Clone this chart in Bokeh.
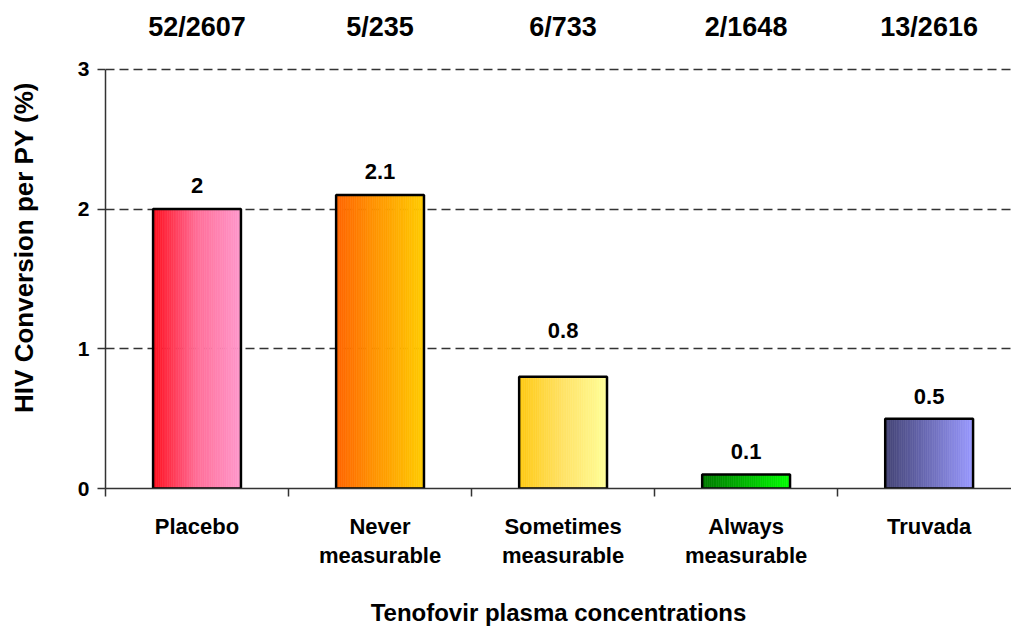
import numpy as np
from bokeh.plotting import figure
from bokeh.models import ColumnDataSource, LabelSet, FixedTicker, Range1d, LinearAxis
from bokeh.core.properties import value
from bokeh.embed import file_html
from bokeh.resources import INLINE

# --- data -------------------------------------------------------------
categories = ["Placebo", "Never measurable", "Sometimes measurable",
              "Always measurable", "Truvada"]
rates = [2.0, 2.1, 0.8, 0.1, 0.5]          # HIV conversion per PY (%)
counts = ["52/2607", "5/235", "6/733", "2/1648", "13/2616"]
y_ticks = [0, 1, 2, 3]
x_title = "Tenofovir plasma concentrations"
y_title = "HIV Conversion per PY (%)"

# --- styling ----------------------------------------------------------
gradients = [
    ("#FF0F1E", "#FF6E98", "#FF9ACC"),
    ("#FF6400", "#FF9A00", "#FFCC00"),
    ("#FFCA12", "#FFE266", "#FFFF99"),
    ("#007800", "#00B800", "#00FF00"),
    ("#444475", "#6D6DB8", "#9A9AFF"),
]
label_lift = [16, 16, 39, 16, 15]   # px between bar top and its value label
FONT = "Liberation Sans"
BAR_W = 0.48
STRIPS = 48
AXIS_COLOR = "#333333"


def hex_rgb(h):
    h = h.lstrip("#")
    return np.array([int(h[i:i + 2], 16) for i in (0, 2, 4)], dtype=float)


def blend(stops, t):
    cols = [hex_rgb(s) for s in stops]
    seg = t * (len(cols) - 1)
    k = min(int(seg), len(cols) - 2)
    f = seg - k
    c = cols[k] * (1 - f) + cols[k + 1] * f
    return "#%02X%02X%02X" % tuple(int(round(v)) for v in c)


xs = np.arange(len(categories), dtype=float)
bounds = list(np.arange(-0.5, len(categories), 1.0))
y_max = max(y_ticks)
line1 = {float(x): c.split(" ")[0] for x, c in zip(xs, categories)}
line2 = {float(x): " ".join(c.split(" ")[1:]) for x, c in zip(xs, categories)}

p = figure(width=1011, height=628,
           x_range=Range1d(-0.5, 4.45), y_range=Range1d(0, 3.45),
           output_backend="svg", toolbar_location=None,
           min_border_left=105, min_border_right=0,
           min_border_top=6, min_border_bottom=140)
p.outline_line_color = None
p.background_fill_color = "white"
p.border_fill_color = "white"

# gradient fill: thin vertical strips across each bar
left, right, top, fill = [], [], [], []
for i, (xc, v) in enumerate(zip(xs, rates)):
    x0 = xc - BAR_W / 2
    for k in range(STRIPS):
        left.append(x0 + BAR_W * k / STRIPS)
        right.append(x0 + BAR_W * (k + 1) / STRIPS)
        top.append(v)
        fill.append(blend(gradients[i], (k + 0.5) / STRIPS))
strip_src = ColumnDataSource(dict(left=left, right=right, top=top,
                                  bottom=[0] * len(top), color=fill))
p.quad(left="left", right="right", top="top", bottom="bottom",
       fill_color="color", line_color="color", line_width=0.6,
       source=strip_src)

# bar outlines
bar_src = ColumnDataSource(dict(x=xs, top=rates, counts=counts,
                                text=[f"{v:g}" for v in rates],
                                lift=label_lift,
                                ymax=[y_max] * len(xs)))
p.vbar(x="x", top="top", bottom=0, width=BAR_W, fill_color=None,
       line_color="black", line_width=2.5, source=bar_src)

# value labels above bars
p.add_layout(LabelSet(x="x", y="top", text="text", y_offset="lift",
                      source=bar_src, text_align="center",
                      text_baseline="alphabetic", text_font=value(FONT),
                      text_font_style="bold", text_font_size="22px",
                      text_color="black"))

# event counts along the top
p.add_layout(LabelSet(x="x", y="ymax", text="counts", y_offset=42,
                      source=bar_src, text_align="center",
                      text_baseline="middle", text_font=value(FONT),
                      text_font_style="bold", text_font_size="27px",
                      text_color="black"))

# x axis: line, boundary ticks and first line of the category names
ax1 = p.xaxis[0]
ax1.ticker = FixedTicker(ticks=list(xs), minor_ticks=bounds)
ax1.major_label_overrides = line1
ax1.major_tick_line_color = None
ax1.major_tick_in = 0
ax1.major_tick_out = 0
ax1.minor_tick_in = 0
ax1.minor_tick_out = 8
ax1.minor_tick_line_color = AXIS_COLOR
ax1.minor_tick_line_width = 1.5
ax1.axis_line_color = AXIS_COLOR
ax1.axis_line_width = 1.5
ax1.major_label_standoff = 17
ax1.major_label_text_font = FONT
ax1.major_label_text_font_style = "bold"
ax1.major_label_text_font_size = "22px"
ax1.major_label_text_color = "black"

# second line of the category names and the axis title
ax2 = LinearAxis(ticker=FixedTicker(ticks=list(xs)),
                 major_label_overrides=line2,
                 axis_line_color=None, major_tick_line_color=None,
                 minor_tick_line_color=None,
                 major_tick_in=0, major_tick_out=0,
                 major_label_standoff=1,
                 major_label_text_font=FONT,
                 major_label_text_font_style="bold",
                 major_label_text_font_size="22px",
                 major_label_text_color="black",
                 axis_label=x_title,
                 axis_label_standoff=28,
                 axis_label_text_font=FONT,
                 axis_label_text_font_style="bold",
                 axis_label_text_font_size="24px",
                 axis_label_text_color="black")
p.add_layout(ax2, "below")

# y axis
p.yaxis.ticker = FixedTicker(ticks=y_ticks)
p.yaxis.bounds = (0, y_max)
p.yaxis.major_tick_in = 0
p.yaxis.major_tick_out = 8
p.yaxis.minor_tick_line_color = None
p.yaxis.axis_line_color = AXIS_COLOR
p.yaxis.major_tick_line_color = AXIS_COLOR
p.yaxis.axis_line_width = 1.5
p.yaxis.major_tick_line_width = 1.5
p.yaxis.major_label_standoff = 8
p.yaxis.major_label_text_font = FONT
p.yaxis.major_label_text_font_style = "bold"
p.yaxis.major_label_text_font_size = "21px"
p.yaxis.major_label_text_color = "black"
p.yaxis.axis_label = y_title
p.yaxis.axis_label_text_font = FONT
p.yaxis.axis_label_text_font_style = "bold"
p.yaxis.axis_label_text_font_size = "26px"
p.yaxis.axis_label_text_color = "black"
p.yaxis.axis_label_standoff = 36

# dashed horizontal grid
p.xgrid.visible = False
p.ygrid.ticker = FixedTicker(ticks=[t for t in y_ticks if t > 0])
p.ygrid.grid_line_color = "#333333"
p.ygrid.grid_line_dash = "9 5"
p.ygrid.grid_line_width = 1.3

open("out.html", "w").write(file_html(p, INLINE))
